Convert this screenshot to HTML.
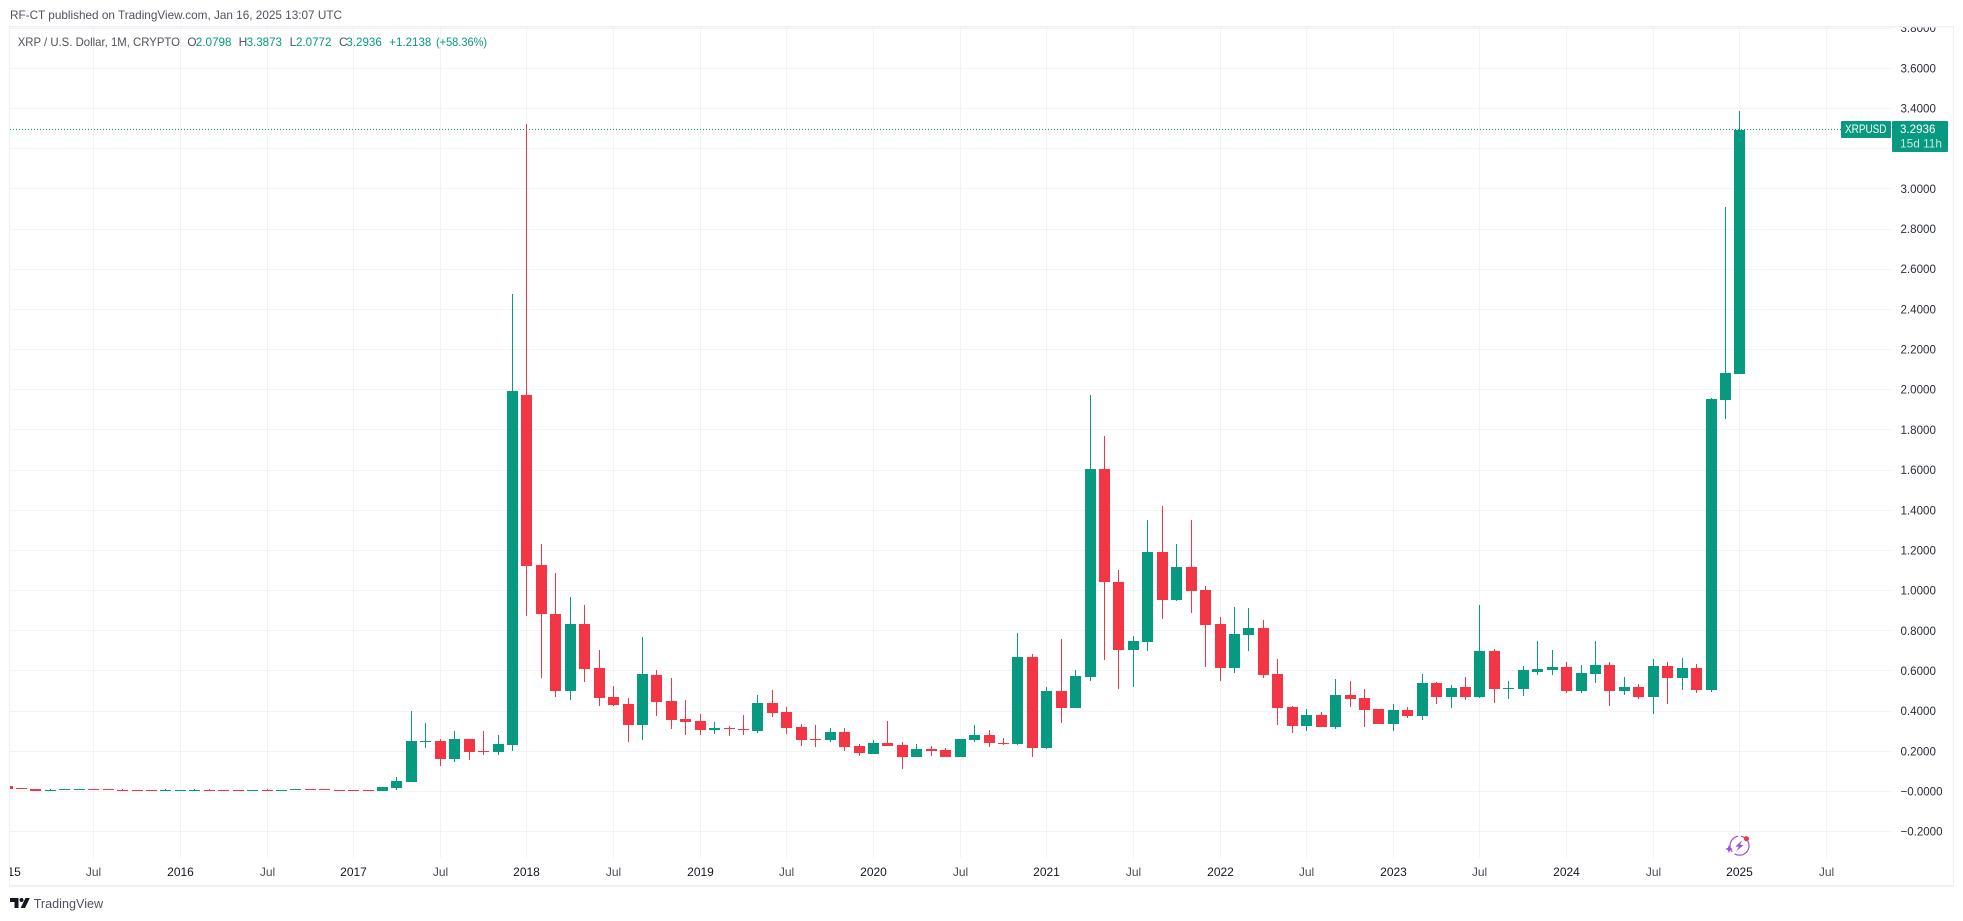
<!DOCTYPE html>
<html lang="en">
<head>
<meta charset="utf-8">
<title>XRP / U.S. Dollar, 1M, CRYPTO</title>
<style>
html,body{margin:0;padding:0;background:#fff;width:1963px;height:921px;overflow:hidden}
svg{display:block;font-family:"Liberation Sans",sans-serif}
</style>
</head>
<body>
<svg id="chart" xmlns="http://www.w3.org/2000/svg" width="1963" height="921" viewBox="0 0 1963 921">
  <defs>
    <clipPath id="pane-clip"><rect x="10" y="27" width="1943" height="858"/></clipPath>
  </defs>
  <rect x="0" y="0" width="1963" height="921" fill="#ffffff"/>
  <text x="10" y="19" font-size="12" fill="#50535e" textLength="332" lengthAdjust="spacingAndGlyphs">RF-CT published on TradingView.com, Jan 16, 2025 13:07 UTC</text>
  <g id="grid" shape-rendering="crispEdges"></g>
  <g id="price-line"></g>
  <g id="candles" shape-rendering="crispEdges" clip-path="url(#pane-clip)"></g>
  <g id="x-axis" clip-path="url(#pane-clip)"></g>
  <g id="y-axis" clip-path="url(#pane-clip)"></g>
  <g id="last-price-tag"></g>
  <g font-size="12">
    <text x="17.7" y="46" fill="#50535e" textLength="162.3" lengthAdjust="spacingAndGlyphs">XRP / U.S. Dollar, 1M, CRYPTO</text>
    <text x="187.3" y="46" fill="#50535e">O</text>
    <text x="195.7" y="46" fill="#089981" textLength="35.8" lengthAdjust="spacingAndGlyphs">2.0798</text>
    <text x="238.6" y="46" fill="#50535e">H</text>
    <text x="246.6" y="46" fill="#089981" textLength="35.4" lengthAdjust="spacingAndGlyphs">3.3873</text>
    <text x="289.6" y="46" fill="#50535e">L</text>
    <text x="296" y="46" fill="#089981" textLength="35.4" lengthAdjust="spacingAndGlyphs">2.0772</text>
    <text x="339" y="46" fill="#50535e">C</text>
    <text x="346.4" y="46" fill="#089981" textLength="35.4" lengthAdjust="spacingAndGlyphs">3.2936</text>
    <text x="389.3" y="46" fill="#089981" textLength="42" lengthAdjust="spacingAndGlyphs">+1.2138</text>
    <text x="436" y="46" fill="#089981" textLength="51" lengthAdjust="spacingAndGlyphs">(+58.36%)</text>
  </g>
  <g fill="#eff0f5" shape-rendering="crispEdges">
    <rect x="9" y="26" width="1945" height="1.5"/>
    <rect x="9" y="885" width="1945" height="2"/>
    <rect x="9" y="26" width="1" height="860"/>
    <rect x="1953" y="26" width="1" height="860"/>
  </g>
  <g>
    <circle cx="1739.5" cy="845.7" r="9.5" fill="none" stroke="#9c4fd0" stroke-width="1.2" stroke-dasharray="20 3 20 3"/>
    <polygon points="1742.5,840 1735.5,846.5 1739,846.8 1736,851.5 1743.5,845 1740,844.7" fill="#9c4fd0"/>
    <polygon points="1729,845 1730.2,848 1733,849 1730.2,850 1729,853 1727.8,850 1725,849 1727.8,848" fill="#9c4fd0"/>
    <circle cx="1746.4" cy="838.7" r="2.6" fill="#f23645"/>
  </g>
  <g>
    <polygon points="10,898 18.5,898 18.5,908 14.5,908 14.5,902 10,902" fill="#131722"/>
    <circle cx="21.5" cy="900" r="2" fill="#131722"/>
    <polygon points="25.5,898 29.8,898 25,908 20.6,908" fill="#131722"/>
    <text x="33.7" y="908" font-size="13" fill="#50535e" textLength="69.5" lengthAdjust="spacingAndGlyphs">TradingView</text>
  </g>
</svg>
<script>
var opens = [
  0.0274,0.0174,0.0124,0.0040,0.0085,0.0085,0.0124,0.0124,0.0075,0.0075,
  0.0075,0.0040,0.0040,0.0040,0.0075,0.0075,0.0075,0.0040,0.0075,0.0040,
  0.0085,0.0124,0.0124,0.0075,0.0075,0.0075,0.0025,0.0174,0.0473,0.2464,
  0.2514,0.1618,0.2613,0.2016,0.1966,0.2315,1.9738,1.1275,0.8836,0.5003,
  0.8338,0.6148,0.4704,0.4356,0.3310,0.5799,0.4505,0.3609,0.3509,0.3061,
  0.3161,0.3111,0.3012,0.4406,0.3958,0.3211,0.2613,0.2564,0.2962,0.2265,
  0.1867,0.2414,0.2315,0.1717,0.2116,0.2066,0.1717,0.2564,0.2813,0.2414,
  0.2365,0.6695,0.2165,0.5003,0.4157,0.5700,1.6054,1.0429,0.7044,0.7442,
  1.1922,0.9533,1.1176,1.0031,0.8338,0.6148,0.7791,0.8139,0.5849,0.4206,
  0.3261,0.3808,0.3211,0.4804,0.4655,0.4107,0.3360,0.4057,0.3758,0.5401,
  0.4704,0.5202,0.4704,0.6994,0.5102,0.5102,0.5949,0.6048,0.6198,0.5003,
  0.5849,0.6297,0.5003,0.5202,0.4704,0.6247,0.5650,0.6148,0.5053,1.9489,
  2.0798];
var highs = [
  0.0274,0.0174,0.0124,0.0124,0.0124,0.0124,0.0124,0.0124,0.0124,0.0075,
  0.0075,0.0124,0.0075,0.0124,0.0124,0.0075,0.0075,0.0075,0.0124,0.0075,
  0.0124,0.0124,0.0124,0.0075,0.0075,0.0075,0.0224,0.0722,0.4007,0.3410,
  0.2613,0.3012,0.2613,0.3012,0.2813,2.4766,3.3228,1.2321,1.0877,0.9682,
  0.9284,0.7044,0.5252,0.4655,0.7691,0.6048,0.5650,0.4555,0.3858,0.3460,
  0.3261,0.3808,0.4804,0.5053,0.4206,0.3360,0.3310,0.3161,0.3161,0.2365,
  0.2564,0.3509,0.2464,0.2365,0.2265,0.2165,0.2613,0.3310,0.3061,0.2663,
  0.7890,0.6845,0.5202,0.7591,0.6048,1.9738,1.7697,1.1026,0.7741,1.3515,
  1.4212,1.2321,1.3515,1.0230,0.8687,0.9184,0.9135,0.8537,0.6596,0.4256,
  0.4107,0.3958,0.5600,0.5501,0.5102,0.4107,0.4356,0.4206,0.5849,0.5451,
  0.5302,0.5700,0.9284,0.7094,0.5501,0.6247,0.7492,0.7044,0.6447,0.6297,
  0.7492,0.6447,0.5700,0.5351,0.6596,0.6447,0.6646,0.6347,1.9589,2.9097,
  3.3873];
var lows = [
  0.0124,0.0124,0.0025,0.0040,0.0085,0.0085,0.0085,0.0085,0.0040,0.0040,
  0.0040,0.0040,0.0040,0.0040,0.0040,0.0040,0.0040,0.0040,0.0040,0.0040,
  0.0085,0.0085,0.0085,0.0040,0.0040,0.0040,0.0025,0.0075,0.0473,0.2165,
  0.1269,0.1469,0.1568,0.1817,0.1817,0.2016,0.8736,0.5650,0.4704,0.4555,
  0.5451,0.4256,0.4256,0.2464,0.2564,0.3758,0.3111,0.2813,0.2813,0.2862,
  0.2763,0.2813,0.2912,0.3709,0.2862,0.2265,0.2215,0.2464,0.2016,0.1767,
  0.1867,0.2265,0.1120,0.1717,0.1767,0.1717,0.1717,0.2464,0.2215,0.2315,
  0.2315,0.1717,0.2116,0.3410,0.4157,0.5501,0.6546,0.5102,0.5202,0.6994,
  0.8587,0.9483,0.8886,0.6198,0.5501,0.5899,0.6994,0.5650,0.3310,0.2912,
  0.3012,0.3211,0.3111,0.4206,0.3211,0.3360,0.3012,0.3659,0.3559,0.4356,
  0.4157,0.4555,0.4655,0.4406,0.4605,0.4754,0.5800,0.5800,0.4903,0.4903,
  0.5401,0.4256,0.4804,0.4605,0.3858,0.4356,0.5053,0.4903,0.4953,1.8543,
  2.0772];
var closes = [
  0.0124,0.0124,0.0025,0.0075,0.0124,0.0124,0.0085,0.0085,0.0040,0.0040,
  0.0040,0.0075,0.0075,0.0075,0.0040,0.0040,0.0040,0.0075,0.0040,0.0075,
  0.0124,0.0085,0.0085,0.0040,0.0040,0.0040,0.0224,0.0523,0.2514,0.2514,
  0.1618,0.2613,0.1966,0.1966,0.2365,1.9937,1.1225,0.8836,0.5003,0.8338,
  0.6098,0.4655,0.4306,0.3310,0.5849,0.4455,0.3559,0.3460,0.3061,0.3161,
  0.3111,0.3061,0.4406,0.3908,0.3161,0.2564,0.2564,0.2962,0.2215,0.1917,
  0.2414,0.2265,0.1717,0.2116,0.2016,0.1717,0.2613,0.2813,0.2414,0.2365,
  0.6695,0.2165,0.5003,0.4157,0.5750,1.6054,1.0429,0.7044,0.7492,1.1922,
  0.9533,1.1176,0.9981,0.8288,0.6148,0.7840,0.8139,0.5799,0.4157,0.3261,
  0.3808,0.3211,0.4804,0.4605,0.4057,0.3360,0.4057,0.3758,0.5401,0.4704,
  0.5152,0.4704,0.6994,0.5102,0.5152,0.6048,0.6098,0.6198,0.5003,0.5899,
  0.6297,0.5003,0.5202,0.4704,0.6247,0.5650,0.6148,0.5053,1.9539,2.0833,
  3.2936];
var timeTickLabels = ['2015','Jul','2016','Jul','2017','Jul','2018','Jul','2019','Jul','2020','Jul','2021','Jul','2022','Jul','2023','Jul','2024','Jul','2025','Jul'];
var priceTicks = [3.8,3.6,3.4,3.2,3.0,2.8,2.6,2.4,2.2,2.0,1.8,1.6,1.4,1.2,1.0,0.8,0.6,0.4,0.2,0,-0.2];
var priceTickLabels = ['3.8000','3.6000','3.4000','','3.0000','2.8000','2.6000','2.4000','2.2000','2.0000','1.8000','1.6000','1.4000','1.2000','1.0000','0.8000','0.6000','0.4000','0.2000','\u22120.0000','\u22120.2000'];
var monthsPerTimeTick = 6;
var lastPriceSymbol = 'XRPUSD';
var lastPriceCountdown = '15d 11h';

var UP = '#089981';
var DOWN = '#f23645';
var SVGNS = 'http://www.w3.org/2000/svg';

function xScale(monthIndex) { return Math.round(6.6 + 14.44 * monthIndex); }
function yScale(value) { return 791.5 - 200.88 * value; }
function make(tag, parent) {
  var el = document.createElementNS(SVGNS, tag);
  parent.appendChild(el);
  return el;
}

var gridGroup = document.getElementById('grid');
var candleGroup = document.getElementById('candles');
var xAxisGroup = document.getElementById('x-axis');
var yAxisGroup = document.getElementById('y-axis');
var priceLineGroup = document.getElementById('price-line');
var tagGroup = document.getElementById('last-price-tag');

priceTicks.forEach(function (tick, i) {
  var py = Math.floor(yScale(tick));
  if (py >= 27) {
    var line = make('rect', gridGroup);
    
    
    line.setAttribute('x', 10);
    line.setAttribute('y', py);
    line.setAttribute('width', 1881);
    line.setAttribute('height', 1);
    line.setAttribute('fill', '#f2f3f5');
  }
  if (priceTickLabels[i]) {
    var label = make('text', yAxisGroup);
    
    
    label.setAttribute('x', 1900.5);
    label.setAttribute('y', yScale(tick) + 4);
    label.setAttribute('font-size', 12);
    label.setAttribute('fill', '#2a2e39');
    label.setAttribute('textLength', tick <= 0 ? 42 : 35.4);
    label.setAttribute('lengthAdjust', 'spacingAndGlyphs');
    label.textContent = priceTickLabels[i];
  }
});

timeTickLabels.forEach(function (name, i) {
  var px = xScale(i * monthsPerTimeTick);
  var line = make('rect', gridGroup);
  
  
  line.setAttribute('x', px);
  line.setAttribute('y', 27);
  line.setAttribute('width', 1);
  line.setAttribute('height', 831);
  line.setAttribute('fill', '#f2f3f5');
  if (px < 10) { line.setAttribute('display', 'none'); }
  var label = make('text', xAxisGroup);
  
  
  label.setAttribute('x', px + 0.5);
  label.setAttribute('y', 876);
  label.setAttribute('font-size', 12);
  label.setAttribute('text-anchor', 'middle');
  label.setAttribute('fill', name === 'Jul' ? '#4a4e59' : '#131722');
  label.textContent = name;
});

var lastIndex = closes.length - 1;
var lastClose = closes[lastIndex];
var lastY = Math.floor(yScale(lastClose));
var dotted = make('line', priceLineGroup);


dotted.setAttribute('x1', 10);
dotted.setAttribute('x2', 1841);
dotted.setAttribute('y1', lastY + 0.5);
dotted.setAttribute('y2', lastY + 0.5);
dotted.setAttribute('stroke', UP);
dotted.setAttribute('stroke-width', 1);
dotted.setAttribute('stroke-dasharray', '1 2');

opens.forEach(function (open, i) {
  var close = closes[i];
  var color = close >= open ? UP : DOWN;
  var cx = xScale(i);
  var top = Math.round(yScale(Math.max(open, close)));
  var bottom = Math.round(yScale(Math.min(open, close)));
  var highY = Math.round(yScale(highs[i]));
  var lowY = Math.round(yScale(lows[i]));
  var wick = make('rect', candleGroup);
  
  
  wick.setAttribute('x', cx);
  wick.setAttribute('y', highY);
  wick.setAttribute('width', 1);
  wick.setAttribute('height', Math.max(1, lowY - highY));
  wick.setAttribute('fill', color);
  var body = make('rect', candleGroup);
  
  
  body.setAttribute('x', cx - 5);
  body.setAttribute('y', top);
  body.setAttribute('width', 11);
  body.setAttribute('height', Math.max(1, bottom - top));
  body.setAttribute('fill', color);
});

var tagTop = lastY - 8;
var symbolBox = make('rect', tagGroup);


symbolBox.setAttribute('x', 1841);
symbolBox.setAttribute('y', tagTop);
symbolBox.setAttribute('width', 50);
symbolBox.setAttribute('height', 17);
symbolBox.setAttribute('rx', 1);
symbolBox.setAttribute('fill', UP);
var symbolText = make('text', tagGroup);


symbolText.setAttribute('x', 1845);
symbolText.setAttribute('y', lastY + 4);
symbolText.setAttribute('font-size', 12);
symbolText.setAttribute('fill', '#ffffff');
symbolText.setAttribute('textLength', 41.5);
symbolText.setAttribute('lengthAdjust', 'spacingAndGlyphs');
symbolText.textContent = lastPriceSymbol;
var priceBox = make('rect', tagGroup);


priceBox.setAttribute('x', 1892);
priceBox.setAttribute('y', tagTop);
priceBox.setAttribute('width', 56);
priceBox.setAttribute('height', 31);
priceBox.setAttribute('rx', 1);
priceBox.setAttribute('fill', UP);
var priceText = make('text', tagGroup);


priceText.setAttribute('x', 1900);
priceText.setAttribute('y', lastY + 4);
priceText.setAttribute('font-size', 12);
priceText.setAttribute('fill', '#ffffff');
priceText.setAttribute('textLength', 35.4);
priceText.setAttribute('lengthAdjust', 'spacingAndGlyphs');
priceText.textContent = lastClose.toFixed(4);
var countdownText = make('text', tagGroup);


countdownText.setAttribute('x', 1900);
countdownText.setAttribute('y', lastY + 18.5);
countdownText.setAttribute('font-size', 12);
countdownText.setAttribute('fill', '#c4e8df');
countdownText.setAttribute('textLength', 42);
countdownText.setAttribute('lengthAdjust', 'spacingAndGlyphs');
countdownText.textContent = lastPriceCountdown;
</script>
</body>
</html>
